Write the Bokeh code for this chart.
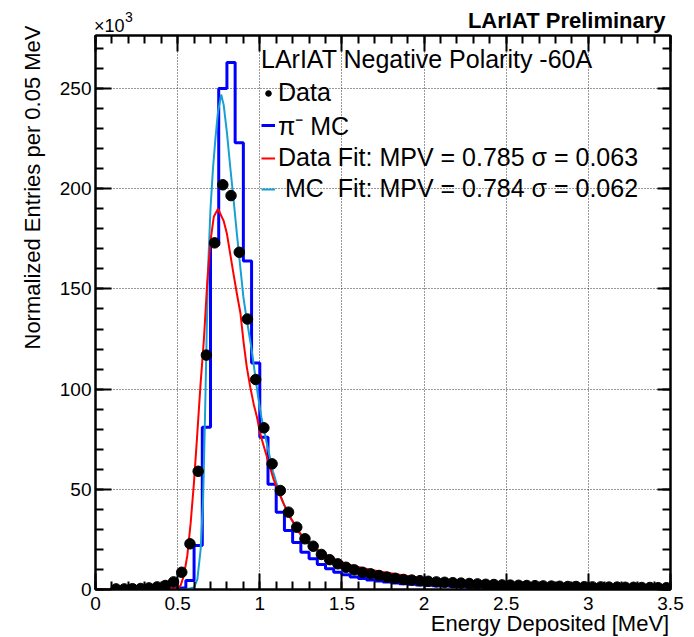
import numpy as np
from bokeh.plotting import figure
from bokeh.models import (LinearAxis, SingleIntervalTicker, Range1d, Label, Legend,
                          LegendItem, CustomJSTickFormatter)
from bokeh.embed import file_html
from bokeh.resources import INLINE

FONT = "Liberation Sans"

# ---------------- data (values in units of 10^3) ----------------
bin_width = 0.05
# Data points: bin centres 0.125 ... 3.475
data_vals = [0.3, 0.3, 0.4, 0.5, 0.8, 1.3, 2.0, 3.8, 8.6, 22.8,
             59, 117, 173, 202, 196.6, 168.3, 135, 104.8,
             80.7, 62.7, 49.4, 38.6, 31.1, 25.3, 21.6, 17.5, 14.9, 12.8,
             11.1, 9.8, 8.6, 7.8, 7.0, 6.2, 5.6, 5.0, 4.7, 4.4,
             4.1, 3.8, 3.6, 3.4, 3.2, 3.0, 2.8, 2.6, 2.5, 2.3,
             2.2, 2.1, 2.0, 1.9, 1.8, 1.7, 1.6, 1.5, 1.5, 1.4,
             1.3, 1.3, 1.2, 1.2, 1.1, 1.1, 1.0, 1.0, 0.9, 0.9]
data_x = 0.125 + bin_width * np.arange(len(data_vals))

# pi- MC histogram, 70 bins of 0.05 from 0 to 3.5
mc_vals = [0, 0, 0, 0, 0, 0, 0, 0.1, 0.2, 0.4,
           0.8, 4.5, 22, 81, 172, 250, 263, 223, 164, 113,
           76, 52.5, 38.6, 29.4, 23.5, 18.6, 15.3, 12.5, 10.3, 8.6,
           7.3, 6.3, 5.5, 4.8, 4.2, 3.7, 3.3, 2.9, 2.6, 2.3,
           2.1, 1.9, 1.7, 1.6, 1.4, 1.3, 1.2, 1.1, 1.0, 0.95,
           0.9, 0.85, 0.8, 0.75, 0.7, 0.65, 0.6, 0.6, 0.55, 0.5,
           0.5, 0.45, 0.45, 0.4, 0.4, 0.4, 0.35, 0.35, 0.3, 0.3]
mc_edges = bin_width * np.arange(len(mc_vals) + 1)

# Data fit (Landau) curve
datafit_x = [0.0, 0.45, 0.50, 0.518, 0.538, 0.559, 0.579, 0.599, 0.619, 0.639,
             0.66, 0.68, 0.70, 0.72, 0.746, 0.78, 0.80, 0.82, 0.84, 0.862,
             0.882, 0.902, 0.921, 0.942, 0.963, 0.983, 1.003, 1.044, 1.084, 1.144,
             1.185, 1.246, 1.326, 1.427, 1.528, 1.629, 1.73, 1.831, 1.93, 2.05,
             2.2, 2.35, 2.5, 2.7, 2.9, 3.1, 3.3, 3.5]
datafit_y = [0.0, 0.3, 0.8, 2, 7, 17, 33, 53, 77, 102,
             125, 153, 174, 186, 190, 184, 177.5, 167.5, 157.5, 147,
             138, 123, 111, 101, 92.5, 86, 77.5, 66, 55, 43,
             36, 28, 21, 16, 12.8, 10.6, 9.0, 7.6, 6.4, 5.3,
             4.3, 3.4, 2.9, 2.3, 1.9, 1.6, 1.4, 1.2]

# MC fit curve
mcfit_x = [0.0, 0.55, 0.60, 0.62, 0.64, 0.655, 0.665, 0.675, 0.685, 0.70,
           0.715, 0.73, 0.745, 0.765, 0.78, 0.80, 0.82, 0.84, 0.86, 0.88,
           0.90, 0.92, 0.95, 0.97, 0.99, 1.01, 1.04, 1.08, 1.12, 1.16,
           1.2, 1.25, 1.3, 1.35, 1.4, 1.5, 1.6, 1.7, 1.8, 1.9,
           2.0, 2.2, 2.4, 2.6, 2.8, 3.0, 3.25, 3.5]
mcfit_y = [0.0, 0.0, 1, 5, 20, 45, 80, 120, 160, 190,
           210, 225, 238, 247, 242, 228, 211, 195, 178, 162,
           146, 135, 120, 108, 96, 86, 74, 59, 48, 40,
           34, 27, 22.5, 19, 16.2, 12.2, 9.6, 7.8, 6.4, 5.3,
           4.5, 3.4, 2.6, 2.1, 1.7, 1.4, 1.1, 0.9]

x_major_ticks_interval = 0.5
y_major_ticks_interval = 50

# ---------------- figure ----------------
p = figure(width=694, height=637, x_range=Range1d(0, 3.5), y_range=Range1d(0, 276.5),
           output_backend="svg", toolbar_location=None,
           min_border_left=94, min_border_right=24, min_border_top=35, min_border_bottom=48)
p.title.visible = False
p.background_fill_color = "white"
p.border_fill_color = "white"
p.outline_line_color = "black"
p.outline_line_width = 2

xt = SingleIntervalTicker(interval=x_major_ticks_interval, num_minor_ticks=5)
yt = SingleIntervalTicker(interval=y_major_ticks_interval, num_minor_ticks=5)


def style_axis(ax, major_in, minor_in, labels=True):
    ax.axis_line_color = "black"
    ax.axis_line_width = 2
    ax.major_tick_in = major_in
    ax.major_tick_out = 0
    ax.minor_tick_in = minor_in
    ax.minor_tick_out = 0
    ax.major_tick_line_width = 2
    ax.minor_tick_line_width = 2
    ax.major_tick_line_color = "black"
    ax.minor_tick_line_color = "black"
    ax.major_label_text_font = FONT
    ax.major_label_text_color = "black"
    ax.major_label_text_font_size = "19px"
    if not labels:
        ax.formatter = CustomJSTickFormatter(code="return '';")
        ax.major_label_text_font_size = "1px"
        ax.major_label_standoff = 0


xa = p.xaxis[0]
xa.ticker = xt
xa.formatter = CustomJSTickFormatter(code="return String(Number(tick.toFixed(2)));")
style_axis(xa, 16, 8)
xa.major_label_standoff = 7

ya = p.yaxis[0]
ya.ticker = yt
style_axis(ya, 16, 8)
ya.major_label_standoff = 4

top_ax = LinearAxis(ticker=xt)
style_axis(top_ax, 16, 8, labels=False)
p.add_layout(top_ax, "above")
right_ax = LinearAxis(ticker=yt)
style_axis(right_ax, 13, 8, labels=False)
p.add_layout(right_ax, "right")

for g in (p.xgrid[0], p.ygrid[0]):
    g.grid_line_color = "black"
    g.grid_line_dash = "1 2"
    g.grid_line_width = 1
    g.grid_line_alpha = 0.8
p.xgrid[0].ticker = xt
p.ygrid[0].ticker = yt

# ---------------- glyphs ----------------
r_mc = p.step(x=mc_edges, y=list(mc_vals) + [mc_vals[-1]], mode="after",
              line_color="#0000ff", line_width=3)
r_cyan = p.line(mcfit_x, mcfit_y, line_color="#19a0d2", line_width=2)
r_red = p.line(datafit_x, datafit_y, line_color="#ff0000", line_width=2)
r_data = p.scatter(data_x, data_vals, size=10.5, marker="circle",
                   fill_color="black", line_color="black")

# ---------------- legend ----------------
legend = Legend(items=[
    LegendItem(label="Data", renderers=[r_data]),
    LegendItem(label="π⁻ MC", renderers=[r_mc]),
    LegendItem(label="Data Fit: MPV = 0.785 σ = 0.063", renderers=[r_red]),
    LegendItem(label=" MC  Fit: MPV = 0.784 σ = 0.062", renderers=[r_cyan]),
], title="LArIAT Negative Polarity -60A", location=(166, 385))
legend.title_text_font = FONT
legend.title_text_font_size = "25px"
legend.title_text_font_style = "normal"
legend.title_text_color = "black"
legend.title_standoff = 3
legend.label_text_font = FONT
legend.label_text_font_size = "25px"
legend.label_text_color = "black"
legend.label_height = 31
legend.glyph_height = 20
legend.glyph_width = 14
legend.label_standoff = 3
legend.spacing = 0
legend.padding = 0
legend.margin = 0
legend.background_fill_alpha = 0
legend.border_line_alpha = 0
p.add_layout(legend)

# ---------------- texts (side panels, so they are not clipped to the frame) ----------------
p.add_layout(Label(x=3.47, y=284.1, text="LArIAT Preliminary", text_align="right",
                   text_baseline="alphabetic", text_font=FONT, text_font_size="22px",
                   text_font_style="bold", text_color="black"), "above")
p.add_layout(Label(x=0.18, y=285.6, text="3", text_align="left",
                   text_baseline="alphabetic", text_font=FONT, text_font_size="14px",
                   text_color="black"), "above")
p.add_layout(Label(x=-0.009, y=281.4, text="×10", text_align="left",
                   text_baseline="alphabetic", text_font=FONT, text_font_size="18px",
                   text_color="black"), "left")
p.add_layout(Label(x=3.492, y=-17.0, text="Energy Deposited [MeV]", text_align="right",
                   text_baseline="alphabetic", text_font=FONT, text_font_size="22px",
                   text_color="black"), "below")
p.add_layout(Label(x=-0.381, y=281.5, text="Normalized Entries per 0.05 MeV",
                   angle=np.pi / 2, text_align="right", text_baseline="alphabetic",
                   text_font=FONT, text_font_size="22px", text_color="black"), "left")

open("out.html", "w").write(file_html(p, INLINE))
